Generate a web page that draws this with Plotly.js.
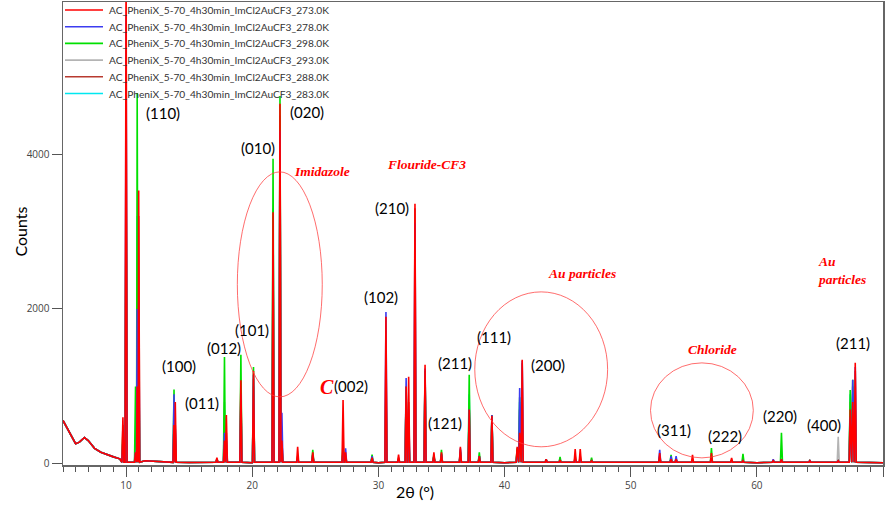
<!DOCTYPE html>
<html>
<head>
<meta charset="utf-8">
<script src="https://cdn.plot.ly/plotly-3.0.1.min.js"></script>
<style>html,body{margin:0;padding:0;background:#fff;}#chart{width:886px;height:515px;}</style>
</head>
<body>
<div id="chart"></div>
<script>
// ---- Data ----
const seriesNames = [
  "AC_PheniX_5-70_4h30min_ImCl2AuCF3_273.0K",
  "AC_PheniX_5-70_4h30min_ImCl2AuCF3_278.0K",
  "AC_PheniX_5-70_4h30min_ImCl2AuCF3_298.0K",
  "AC_PheniX_5-70_4h30min_ImCl2AuCF3_293.0K",
  "AC_PheniX_5-70_4h30min_ImCl2AuCF3_288.0K",
  "AC_PheniX_5-70_4h30min_ImCl2AuCF3_283.0K"
];
const seriesColors = ["#ff0000", "#3c3cf0", "#00e000", "#b4b4b4", "#b83a30", "#00e8f0"];

// background (amorphous hump + baseline), shared by all scans
const baseX = [5.0, 5.3, 5.7, 6.0, 6.3, 6.7, 7.0, 7.5, 8.0, 8.5, 9.0, 9.5, 11.5, 13.0, 15.0, 20.0, 30.0, 40.0, 50.0, 60.0, 70.0];
const baseY = [560, 470, 330, 260, 280, 340, 300, 200, 150, 115, 90, 65, 40, 25, 18, 15, 15, 15, 15, 15, 15];

// peak positions (2θ)
const peakPos = [9.75, 10.0, 10.75, 10.88, 11.0, 13.8, 13.9, 17.2, 17.8, 17.95,
  19.1, 20.1, 21.65, 22.2, 22.35, 23.6, 24.8, 27.2, 27.4, 29.5,
  30.6, 31.6, 32.2, 32.4, 32.9, 33.7, 34.4, 35.0, 36.5, 37.2,
  38.0, 39.0, 41.0, 41.2, 41.4, 43.3, 44.4, 45.6, 46.0, 46.9,
  52.3, 53.2, 53.6, 54.9, 56.4, 58.0, 58.9, 61.3, 61.95, 64.2,
  66.45, 67.4, 67.6, 67.8];

// peak heights (counts) per scan
const h273 = [600, 6500, 150, 1000, 3530, 500, 800, 80, 300, 630,
  1080, 1200, 3250, 4650, 300, 220, 150, 826, 150, 80,
  1900, 120, 1000, 1125, 3360, 1280, 150, 150, 220, 700,
  100, 620, 220, 400, 1345, 60, 50, 190, 190, 40,
  140, 60, 60, 115, 140, 75, 40, 40, 60, 40,
  40, 700, 800, 1305];
const h278 = [300, 5800, 150, 2000, 2100, 900, 500, 60, 400, 300,
  900, 1150, 2650, 4300, 660, 60, 120, 150, 200, 100,
  1960, 60, 1110, 700, 3110, 1230, 100, 130, 200, 700,
  100, 630, 150, 980, 1330, 60, 50, 60, 60, 40,
  180, 100, 100, 40, 80, 40, 40, 60, 60, 50,
  40, 600, 1085, 1250];
const h298 = [400, 3800, 1000, 4790, 1500, 960, 300, 60, 1380, 200,
  1410, 1250, 3940, 4750, 200, 60, 180, 280, 100, 120,
  950, 60, 1000, 400, 1630, 1200, 120, 180, 150, 1150,
  150, 630, 200, 860, 500, 60, 90, 60, 60, 80,
  90, 115, 60, 40, 205, 40, 130, 50, 400, 40,
  40, 955, 1085, 500];
const h293 = [300, 3000, 300, 2500, 1500, 500, 400, 60, 800, 300,
  800, 1000, 3000, 4200, 300, 60, 100, 150, 100, 80,
  1200, 60, 900, 500, 2500, 1100, 100, 120, 150, 800,
  100, 600, 150, 700, 900, 50, 50, 60, 60, 40,
  100, 60, 60, 40, 80, 40, 40, 40, 50, 40,
  350, 800, 900, 700];
const h288 = [500, 5000, 200, 1500, 3200, 700, 450, 60, 600, 400,
  1000, 1100, 2650, 4500, 300, 100, 120, 200, 100, 80,
  1500, 80, 950, 800, 3300, 1200, 100, 120, 180, 700,
  100, 600, 180, 700, 1300, 50, 50, 100, 100, 40,
  100, 60, 60, 60, 100, 50, 40, 40, 50, 40,
  40, 800, 1000, 1200];
const h283 = [300, 3700, 300, 3200, 1200, 500, 300, 60, 700, 200,
  800, 1000, 3300, 4300, 200, 60, 100, 150, 100, 80,
  1000, 60, 900, 400, 2000, 1100, 100, 120, 150, 900,
  100, 600, 150, 800, 800, 50, 50, 60, 60, 40,
  80, 60, 60, 40, 80, 40, 40, 40, 50, 40,
  40, 900, 900, 600];
const seriesHeights = [h273, h278, h298, h293, h288, h283];

// Miller index labels
const hklText = ["(110)", "(010)", "(020)", "(100)", "(011)", "(012)", "(101)", "(002)", "(210)", "(102)",
  "(211)", "(121)", "(111)", "(200)", "(311)", "(222)", "(220)", "(400)", "(211)"];
const hklX = [12.9, 20.45, 24.32, 14.23, 16.0, 17.75, 20.0, 27.85, 31.08, 30.2,
  36.07, 35.28, 39.2, 43.43, 53.43, 57.5, 61.86, 65.34, 67.6];
const hklY = [4533, 4081, 4546, 1259, 788, 1492, 1730, 1000, 3300, 2150,
  1304, 523, 1634, 1279, 439, 355, 620, 504, 1556];

// red hand-written group labels
const groupText = ["Imidazole", "Flouride-CF3", "Au particles", "Chloride", "Au<br>particles", "C"];
const groupX = [25.5, 33.8, 46.16, 56.5, 66.75, 25.95];
const groupY = [3770, 3860, 2454, 1472, 2499, 995];

// ellipses [x0, x1, y0, y1]
const ellX0 = [18.82, 37.64, 51.57];
const ellX1 = [25.55, 48.17, 59.72];
const ellY0 = [865, 220, 77];
const ellY1 = [3771, 2221, 1304];

// ---- Geometry ----
const W = 886, H = 515;
const M = {l: 63, r: 3, t: 2, b: 50};
const PW = W - M.l - M.r, PH = H - M.t - M.b;
const px2paperX = px => (px - M.l) / PW;
const py2paperY = py => (H - M.b - py) / PH;

// ---- Build traces ----
const HALF_W = 0.08, SPIKE_BASE = 20;
function buildSeries(heights) {
  const pts = [];
  baseX.forEach((x, i) => pts.push([x, baseY[i]]));
  peakPos.forEach((p, i) => {
    pts.push([p - HALF_W, SPIKE_BASE]);
    pts.push([p, heights[i]]);
    pts.push([p + HALF_W, SPIKE_BASE]);
  });
  pts.sort((a, b) => a[0] - b[0]);
  return {x: pts.map(p => p[0]), y: pts.map(p => p[1])};
}

const traces = [];
for (let i = seriesNames.length - 1; i >= 0; i--) {
  const s = buildSeries(seriesHeights[i]);
  traces.push({
    type: "scatter", mode: "lines", x: s.x, y: s.y, name: seriesNames[i],
    line: {color: seriesColors[i], width: 1.6}, showlegend: false
  });
}

const annotations = [];
const shapes = [];

// compact legend (drawn with shapes + text)
const LEG_TOP = 10, LEG_STEP = 16.7;
seriesNames.forEach((n, i) => {
  const py = LEG_TOP + i * LEG_STEP;
  shapes.push({type: "line", xref: "paper", yref: "paper",
    x0: px2paperX(65), x1: px2paperX(103), y0: py2paperY(py), y1: py2paperY(py),
    line: {color: seriesColors[i], width: 1.6}});
  annotations.push({xref: "paper", yref: "paper", x: px2paperX(107), y: py2paperY(py),
    xanchor: "left", yanchor: "middle", text: n, showarrow: false,
    font: {family: "Lato, 'Open Sans', sans-serif", size: 10.2, color: "#333"}});
});

hklText.forEach((t, i) => annotations.push({
  x: hklX[i], y: hklY[i], xref: "x", yref: "y", text: t, showarrow: false,
  font: {family: "Lato, 'Open Sans', sans-serif", size: 15, color: "#000"}
}));
groupText.forEach((t, i) => annotations.push({
  x: groupX[i], y: groupY[i], xref: "x", yref: "y", text: t, showarrow: false,
  align: "left",
  font: {family: "'Liberation Serif', serif", size: t === "C" ? 20 : 13.5, color: "#ff0000", style: "italic", weight: "bold"}
}));
annotations.push({x: px2paperX(415), y: py2paperY(503), xref: "paper", yref: "paper", text: "2θ (°)", showarrow: false,
  font: {family: "Lato, sans-serif", size: 16, color: "#000"}});
annotations.push({x: px2paperX(8.5), y: py2paperY(231.5), xref: "paper", yref: "paper", text: "Counts", showarrow: false, textangle: -90,
  font: {family: "Lato, sans-serif", size: 16, color: "#000"}});

ellX0.forEach((x0, i) => shapes.push({
  type: "circle", xref: "x", yref: "y", x0: x0, x1: ellX1[i], y0: ellY0[i], y1: ellY1[i],
  line: {color: "rgba(255,60,60,0.75)", width: 1}
}));

const layout = {
  width: W, height: H,
  margin: M,
  paper_bgcolor: "#fff", plot_bgcolor: "#fff",
  showlegend: false,
  xaxis: {range: [5, 70], tick0: 0, dtick: 10, ticks: "outside", ticklen: 10, tickcolor: "#555",
    minor: {dtick: 1, ticks: "outside", ticklen: 5, tickcolor: "#555"},
    showgrid: false, zeroline: false, showline: true, linecolor: "#666", linewidth: 1.5, mirror: true,
    tickfont: {family: "'Open Sans', sans-serif", size: 10, color: "#444"}},
  yaxis: {range: [-15, 5965], tick0: 0, dtick: 2000, ticks: "outside", ticklen: 10, tickcolor: "#555",
    showgrid: false, zeroline: false, showline: true, linecolor: "#666", linewidth: 1.5, mirror: true,
    tickfont: {family: "'Open Sans', sans-serif", size: 10, color: "#444"}},
  annotations: annotations,
  shapes: shapes
};

Plotly.newPlot("chart", traces, layout, {staticPlot: true, displayModeBar: false});
</script>
</body>
</html>
